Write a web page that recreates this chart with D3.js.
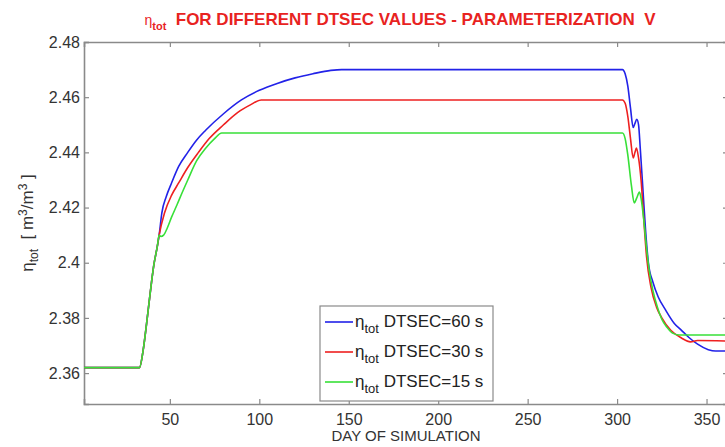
<!DOCTYPE html>
<html>
<head>
<meta charset="utf-8">
<script src="https://cdn.jsdelivr.net/npm/d3@7"></script>
<style>
  body { margin: 0; background: #fff; }
  text { font-family: "Liberation Sans", Arial, sans-serif; }
</style>
</head>
<body>
<svg id="chart" width="725" height="447"></svg>
<script>
// values
var xTicks = [50, 100, 150, 200, 250, 300, 350];
var yTicks = [2.36, 2.38, 2.40, 2.42, 2.44, 2.46, 2.48];
var yTickLabels = ["2.36", "2.38", "2.4", "2.42", "2.44", "2.46", "2.48"];

var seriesNames = ["DTSEC=60 s", "DTSEC=30 s", "DTSEC=15 s"];
var seriesColors = ["#2222e8", "#ee2020", "#38e038"];

// common start + rise (day, eta)
var riseDays = [2, 33, 35, 37, 39, 41, 43, 44];
var riseEta = [2.362, 2.362, 2.368, 2.378, 2.389, 2.399, 2.406, 2.410];

var dt60Days = [45.5, 48, 51, 55, 60, 65, 70, 80, 90, 100, 110, 120, 130, 140, 146, 303, 304.5, 306, 307.5, 309, 310, 311, 312, 313, 314.5, 316, 317.5, 320, 323, 327, 332, 336, 340, 345, 351, 355, 362];
var dt60Eta = [2.418, 2.424, 2.429, 2.435, 2.440, 2.4445, 2.448, 2.454, 2.459, 2.4625, 2.465, 2.467, 2.4685, 2.4697, 2.470, 2.470, 2.4685, 2.464, 2.456, 2.449, 2.4505, 2.452, 2.450, 2.441, 2.426, 2.411, 2.400, 2.393, 2.3876, 2.383, 2.378, 2.3755, 2.373, 2.3705, 2.3685, 2.368, 2.368];

var dt30Days = [47, 51, 55, 60, 66, 72, 80, 88, 95, 101, 303, 304.5, 306, 307.5, 309, 310, 310.8, 312, 313.4, 315, 316.5, 319, 322, 325, 330, 336, 341, 345, 362];
var dt30Eta = [2.418, 2.4245, 2.429, 2.4345, 2.440, 2.445, 2.450, 2.4545, 2.4572, 2.459, 2.459, 2.4578, 2.453, 2.445, 2.438, 2.440, 2.4416, 2.438, 2.430, 2.415, 2.402, 2.391, 2.384, 2.380, 2.3755, 2.3727, 2.3713, 2.3718, 2.3716];

var dt15Days = [45, 46.5, 48.5, 51, 54, 56.6, 60, 65, 70, 75, 79, 303, 304.5, 306, 308, 309.6, 311, 312.5, 313.5, 315, 316.5, 318, 320, 322.5, 325, 328, 331, 335, 362];
var dt15Eta = [2.4095, 2.410, 2.4125, 2.4166, 2.421, 2.425, 2.430, 2.437, 2.4415, 2.445, 2.447, 2.447, 2.445, 2.439, 2.428, 2.4217, 2.4235, 2.4256, 2.423, 2.415, 2.405, 2.397, 2.390, 2.384, 2.3795, 2.3765, 2.3745, 2.3738, 2.3738];

function zipSeries(days, eta) {
  var pts = riseDays.map(function (d, i) { return { day: d, eta: riseEta[i] }; });
  return pts.concat(days.map(function (d, i) { return { day: d, eta: eta[i] }; }));
}
var allSeries = [zipSeries(dt60Days, dt60Eta), zipSeries(dt30Days, dt30Eta), zipSeries(dt15Days, dt15Eta)];

var svg = d3.select("#chart"),
  margin = { top: 42, right: -3, bottom: 43, left: 84 },
  width = +svg.attr("width") - margin.left - margin.right,
  height = +svg.attr("height") - margin.top - margin.bottom;

var x = d3.scaleLinear().domain([2, 362]).range([0, width]);
var y = d3.scaleLinear().domain([2.3488, 2.48]).range([height, 0]);

var g = svg.append("g")
  .attr("transform", "translate(" + margin.left + "," + margin.top + ")");

g.append("clipPath").attr("id", "clip")
  .append("rect").attr("width", width).attr("height", height);

var axisColor = "#8a8a8a";
var labelColor = "#333";

// inward ticks on all four sides
var xAxisB = g.append("g").attr("transform", "translate(0," + height + ")")
  .call(d3.axisBottom(x).tickValues(xTicks).tickSize(-5).tickPadding(10).tickFormat(d3.format("d")));
var xAxisT = g.append("g")
  .call(d3.axisTop(x).tickValues(xTicks).tickSize(-5).tickFormat(""));
var yAxisL = g.append("g")
  .call(d3.axisLeft(y).tickValues(yTicks).tickSize(-5).tickPadding(4)
    .tickFormat(function (d, i) { return yTickLabels[i]; }));
var yAxisR = g.append("g").attr("transform", "translate(" + width + ",0)")
  .call(d3.axisRight(y).tickValues(yTicks).tickSize(-5).tickFormat(""));

[xAxisB, xAxisT, yAxisL, yAxisR].forEach(function (a) {
  a.select(".domain").attr("stroke", axisColor).attr("stroke-width", 1.6);
  a.selectAll(".tick line").attr("stroke", axisColor).attr("stroke-width", 1.2);
  a.selectAll(".tick text").attr("fill", labelColor)
    .style("font-size", "16px").style("font-family", "'Liberation Sans', Arial, sans-serif");
});

var line = d3.line()
  .x(function (d) { return x(d.day); })
  .y(function (d) { return y(d.eta); })
  .curve(d3.curveMonotoneX);

// draw 60 s first, green on top
g.append("g").attr("clip-path", "url(#clip)")
  .selectAll(".series")
  .data(allSeries)
  .enter().append("path")
  .attr("class", "series")
  .attr("fill", "none")
  .attr("stroke", function (d, i) { return seriesColors[i]; })
  .attr("stroke-width", 1.6)
  .attr("stroke-linejoin", "round")
  .attr("d", line);

// title
var title = svg.append("text")
  .attr("x", 400).attr("y", 25)
  .attr("text-anchor", "middle")
  .attr("fill", "#e8231f")
  .style("font-weight", "bold")
  .style("font-size", "17px");
title.append("tspan").style("font-size", "14px").style("font-weight", "normal").text("η");
title.append("tspan").attr("dy", 5).style("font-size", "11px").text("tot");
title.append("tspan").attr("dy", -5).text("\u00a0 FOR DIFFERENT DTSEC VALUES - PARAMETERIZATION \u00a0V");

// axis labels
svg.append("text")
  .attr("x", 406).attr("y", 441)
  .attr("text-anchor", "middle")
  .attr("fill", labelColor)
  .style("font-size", "15px")
  .text("DAY OF SIMULATION");

var yLab = svg.append("text")
  .attr("transform", "translate(33," + (margin.top + height / 2) + ") rotate(-90)")
  .attr("text-anchor", "middle")
  .attr("fill", labelColor)
  .style("font-size", "17px");
yLab.append("tspan").text("η");
yLab.append("tspan").attr("dy", 5).style("font-size", "12px").text("tot");
yLab.append("tspan").attr("dy", -5).text("\u00a0 [ m");
yLab.append("tspan").attr("dy", -6).style("font-size", "12px").text("3");
yLab.append("tspan").attr("dy", 6).text("/m");
yLab.append("tspan").attr("dy", -6).style("font-size", "12px").text("3");
yLab.append("tspan").attr("dy", 6).text(" ]");

// legend
var legend = svg.append("g").attr("transform", "translate(320,306)");
legend.append("rect")
  .attr("width", 173).attr("height", 95)
  .attr("fill", "#fff").attr("stroke", axisColor).attr("stroke-width", 1.2);

var rows = legend.selectAll(".row")
  .data(seriesNames)
  .enter().append("g")
  .attr("class", "row")
  .attr("transform", function (d, i) { return "translate(0," + (16 + i * 30) + ")"; });

rows.append("line")
  .attr("x1", 5).attr("x2", 33).attr("y1", 0).attr("y2", 0)
  .attr("stroke", function (d, i) { return seriesColors[i]; })
  .attr("stroke-width", 1.6);

var rowText = rows.append("text")
  .attr("x", 35).attr("y", 5)
  .attr("fill", "#222")
  .style("font-size", "17px");
rowText.append("tspan").text("η");
rowText.append("tspan").attr("dy", 6).style("font-size", "13px").text("tot");
rowText.append("tspan").attr("dy", -6).text(function (d) { return " " + d; });
</script>
</body>
</html>
